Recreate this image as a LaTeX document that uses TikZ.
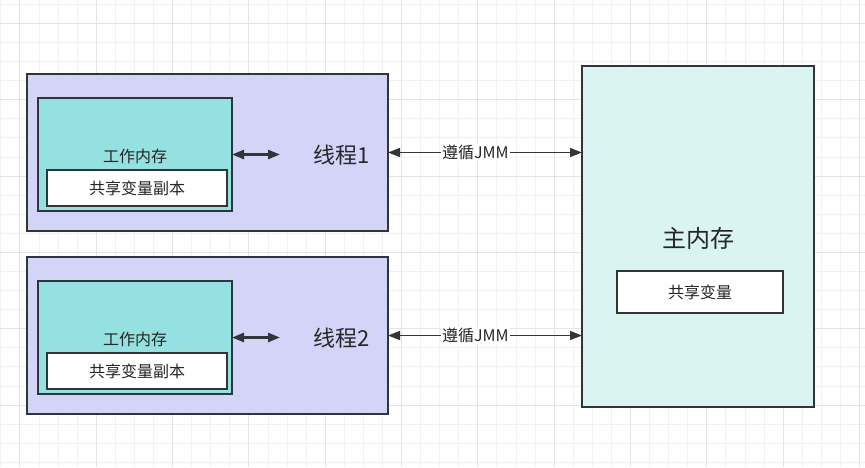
\documentclass[tikz,border=0pt]{standalone}
\usepackage{fontspec}
\setmainfont{Noto Sans CJK SC}
\usetikzlibrary{arrows.meta}

\definecolor{borda}{HTML}{2F3538}
\definecolor{textocor}{HTML}{262626}
\definecolor{lilas}{HTML}{D4D4F8}
\definecolor{turquesa}{HTML}{95E0E0}
\definecolor{ciano}{HTML}{DAF4F4}
\definecolor{gradefina}{HTML}{F1F1F1}
\definecolor{gradegrossa}{HTML}{E4E4E4}

\begin{document}
\begin{tikzpicture}[x=1pt,y=-1pt,
    caixa/.style={draw=borda, line width=1.2pt, inner sep=0pt, outer sep=0pt, anchor=north west},
    texto/.style={text=textocor, font=\fontsize{16}{19}\selectfont},
    seta/.style={{Triangle[length=12pt,width=9pt]}-{Triangle[length=12pt,width=9pt]}, line width=1.6pt, draw=borda}]
    \useasboundingbox[fill=white] (0,0) rectangle (865,467);

    % Grade de fundo
    \foreach \i in {0,...,45} {
        \draw[gradefina, line width=0.8pt] ({0.8+19.08*\i},0) -- ({0.8+19.08*\i},467);
    }
    \foreach \j in {0,...,24} {
        \draw[gradefina, line width=0.8pt] (0,{4.3+19.08*\j}) -- (865,{4.3+19.08*\j});
    }
    \foreach \i in {1,5,...,45} {
        \draw[gradegrossa, line width=0.8pt] ({0.8+19.08*\i},0) -- ({0.8+19.08*\i},467);
    }
    \foreach \j in {1,5,...,24} {
        \draw[gradegrossa, line width=0.8pt] (0,{4.3+19.08*\j}) -- (865,{4.3+19.08*\j});
    }

    % Memoria principal
    \node[caixa, fill=ciano, minimum width=232pt, minimum height=341pt] (mem) at (582,66) {};
    \node[texto, font=\fontsize{24}{28}\selectfont] (memtxt) at (698,238) {主内存};
    \node[caixa, fill=white, minimum width=166pt, minimum height=42pt, texto] (var) at (617,271) {共享变量};

    % Threads
    \foreach \n/\dy in {1/0,2/183} {
        \node[caixa, fill=lilas, minimum width=361pt, minimum height=157pt] (thr\n) at (27,74+\dy) {};
        \node[caixa, fill=turquesa, minimum width=194pt, minimum height=113pt] (wm\n) at (38,98+\dy) {};
        \node[texto] (wmtxt\n) at (135,156+\dy) {工作内存};
        \node[caixa, fill=white, minimum width=180pt, minimum height=36pt, texto] (cop\n) at (47,170+\dy) {共享变量副本};
        \node[texto, font=\fontsize{22}{26}\selectfont] (thrtxt\n) at (342,155+\dy) {线程\n};
        \coordinate (p\n) at (280,154.5+\dy);
        \draw[seta, line width=2.6pt] (wm\n.east) -- (p\n);
        \draw[seta] (thr\n.east) -- (thr\n.east -| mem.west)
            node[texto, fill=white, inner sep=1pt, pos=0.45] (jmm\n) {遵循JMM};
    }
\end{tikzpicture}
\end{document}
